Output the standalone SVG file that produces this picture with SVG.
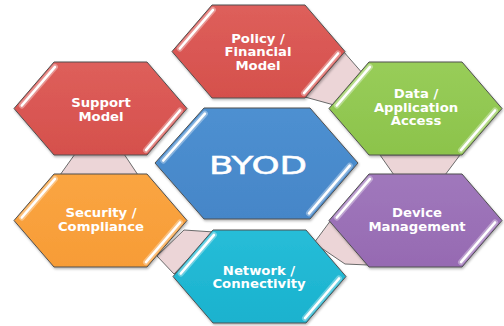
<svg xmlns="http://www.w3.org/2000/svg" xmlns:xlink="http://www.w3.org/1999/xlink" width="504" height="326" viewBox="0 0 504 326">
  <style>
    .edge { stroke: #505050; stroke-width: 1; }
    .link { fill: #ECD5D7; stroke: #6a6a6a; stroke-width: 1; stroke-linejoin: miter; }
    .glow { fill: none; stroke: #ffffff; stroke-opacity: 0.35; stroke-width: 6; stroke-linecap: round; }
    .hl { fill: none; stroke: #ffffff; stroke-width: 2.6; stroke-linecap: round; }
    .lbl { font-family: "DejaVu Sans", "Liberation Sans", sans-serif; font-weight: bold; font-size: 11.5px; fill: #ffffff; text-anchor: middle; }
    .big { font-family: "DejaVu Sans", "Liberation Sans", sans-serif; font-size: 24px; fill: #ffffff; stroke: #ffffff; stroke-width: 0.5; text-anchor: middle; }
  </style>
  <defs>
    <filter id="sh" x="-10%" y="-10%" width="120%" height="125%">
      <feDropShadow dx="0.8" dy="1.5" stdDeviation="1" flood-color="#000" flood-opacity="0.3"/>
    </filter>
    <linearGradient id="gRed" x1="0" y1="0" x2="0" y2="1">
      <stop offset="0" stop-color="#DE5F5B"/>
      <stop offset="1" stop-color="#D5504C"/>
    </linearGradient>
    <linearGradient id="gGreen" x1="0" y1="0" x2="0" y2="1">
      <stop offset="0" stop-color="#98CD59"/>
      <stop offset="1" stop-color="#8CC34B"/>
    </linearGradient>
    <linearGradient id="gBlue" x1="0" y1="0" x2="0" y2="1">
      <stop offset="0" stop-color="#4E90D1"/>
      <stop offset="1" stop-color="#4586C8"/>
    </linearGradient>
    <linearGradient id="gOrange" x1="0" y1="0" x2="0" y2="1">
      <stop offset="0" stop-color="#FAA542"/>
      <stop offset="1" stop-color="#F79C36"/>
    </linearGradient>
    <linearGradient id="gCyan" x1="0" y1="0" x2="0" y2="1">
      <stop offset="0" stop-color="#27BDD8"/>
      <stop offset="1" stop-color="#1AB2CE"/>
    </linearGradient>
    <linearGradient id="gPurple" x1="0" y1="0" x2="0" y2="1">
      <stop offset="0" stop-color="#A078BC"/>
      <stop offset="1" stop-color="#966AB2"/>
    </linearGradient>
    <polygon id="hx" points="0,46.5 40,0 133,0 173,46.5 133,93 40,93"/>
    <path id="hxl" d="M41,4.9 L7.8,43.5 M166,48.5 L132,88.1"/>
  </defs>

  <g id="connectors">
    <polygon class="link" points="75,154 124,154 138,175 60,175"/>
    <polygon class="link" points="343,51 364,75 334,105 305,97"/>
    <polygon class="link" points="380,155 460,155 445,175 394,175"/>
    <polygon class="link" points="331,220 314,243 345,264 368,265"/>
    <polygon class="link" points="184,230 214,232 174,274 157,256"/>
  </g>

  <g id="support-model" transform="translate(14,62)">
    <use xlink:href="#hx" href="#hx" class="edge" fill="url(#gRed)" filter="url(#sh)"/>
    <use xlink:href="#hxl" href="#hxl" class="glow"/>
    <use xlink:href="#hxl" href="#hxl" class="hl"/>
    <text class="lbl" transform="translate(87,0) scale(1.15,1)" x="0" y="45.3">Support<tspan x="0" dy="13.5">Model</tspan></text>
  </g>

  <g id="policy-financial-model" transform="translate(172,5)">
    <use xlink:href="#hx" href="#hx" class="edge" fill="url(#gRed)" filter="url(#sh)"/>
    <use xlink:href="#hxl" href="#hxl" class="glow"/>
    <use xlink:href="#hxl" href="#hxl" class="hl"/>
    <text class="lbl" transform="translate(86,0) scale(1.15,1)" x="0" y="38">Policy /<tspan x="0" dy="13.5">Financial</tspan><tspan x="0" dy="13.5">Model</tspan></text>
  </g>

  <g id="data-application-access" transform="translate(329,62)">
    <use xlink:href="#hx" href="#hx" class="edge" fill="url(#gGreen)" filter="url(#sh)"/>
    <use xlink:href="#hxl" href="#hxl" class="glow"/>
    <use xlink:href="#hxl" href="#hxl" class="hl"/>
    <text class="lbl" transform="translate(87,0) scale(1.15,1)" x="0" y="36.5">Data /<tspan x="0" dy="13.5">Application</tspan><tspan x="0" dy="13.5">Access</tspan></text>
  </g>

  <g id="security-compliance" transform="translate(14,174)">
    <use xlink:href="#hx" href="#hx" class="edge" fill="url(#gOrange)" filter="url(#sh)"/>
    <use xlink:href="#hxl" href="#hxl" class="glow"/>
    <use xlink:href="#hxl" href="#hxl" class="hl"/>
    <text class="lbl" transform="translate(87,0) scale(1.15,1)" x="0" y="43.2">Security /<tspan x="0" dy="13.5">Compliance</tspan></text>
  </g>

  <g id="network-connectivity" transform="translate(173,230)">
    <use xlink:href="#hx" href="#hx" class="edge" fill="url(#gCyan)" filter="url(#sh)"/>
    <use xlink:href="#hxl" href="#hxl" class="glow"/>
    <use xlink:href="#hxl" href="#hxl" class="hl"/>
    <text class="lbl" transform="translate(86,0) scale(1.15,1)" x="0" y="44.8">Network /<tspan x="0" dy="13.5">Connectivity</tspan></text>
  </g>

  <g id="device-management" transform="translate(329,174)">
    <use xlink:href="#hx" href="#hx" class="edge" fill="url(#gPurple)" filter="url(#sh)"/>
    <use xlink:href="#hxl" href="#hxl" class="glow"/>
    <use xlink:href="#hxl" href="#hxl" class="hl"/>
    <text class="lbl" transform="translate(88,0) scale(1.15,1)" x="0" y="43.2">Device<tspan x="0" dy="13.5">Management</tspan></text>
  </g>

  <g id="byod">
    <polygon class="edge" fill="url(#gBlue)" filter="url(#sh)" points="155,163 204,108 310,108 358,163 310,219 204,219"/>
    <path class="glow" d="M204.9,113.7 L163.3,160.5 M349.8,165.7 L309,213.3"/>
    <path class="hl" d="M204.9,113.7 L163.3,160.5 M349.8,165.7 L309,213.3"/>
    <text class="big" x="258" y="174" textLength="98" lengthAdjust="spacingAndGlyphs">BYOD</text>
  </g>
</svg>
